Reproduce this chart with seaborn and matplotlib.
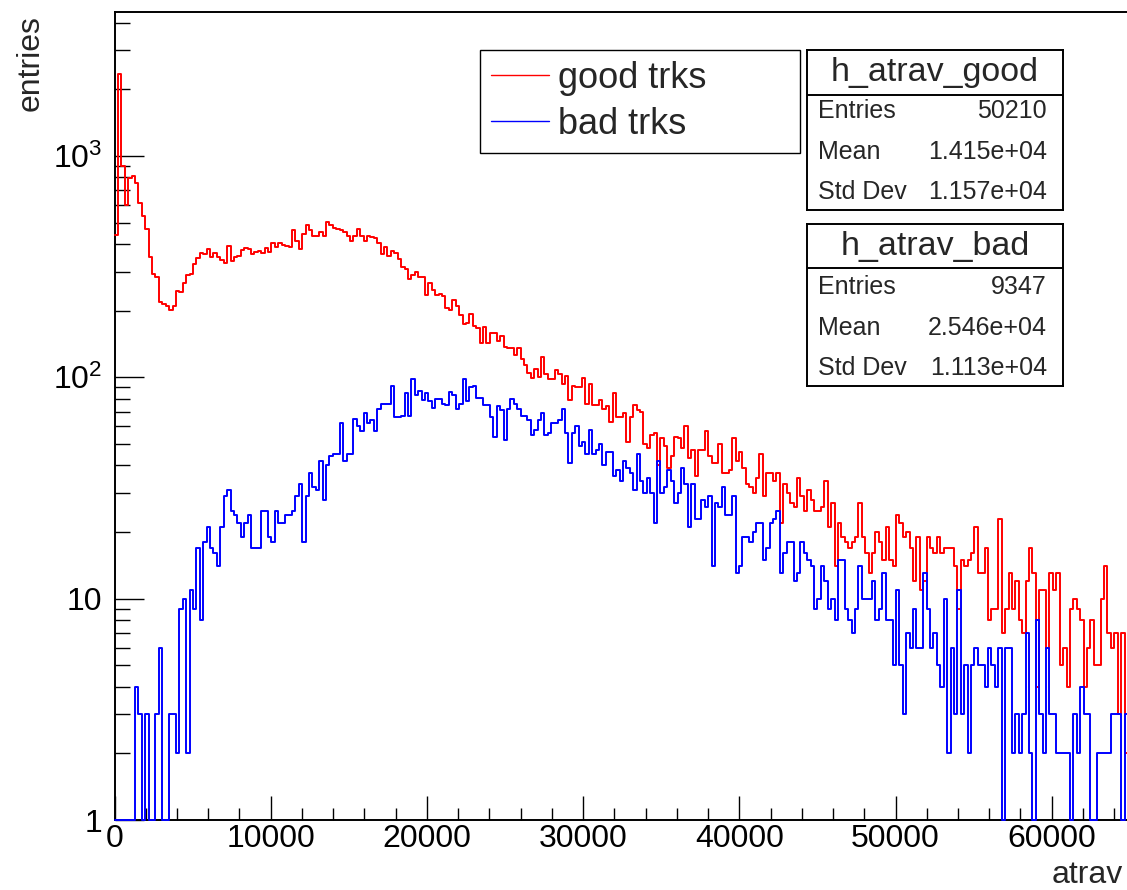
import matplotlib
matplotlib.use("Agg")
import matplotlib.pyplot as plt
import numpy as np
import pandas as pd
import seaborn as sns
from matplotlib.ticker import MultipleLocator, LogLocator, NullFormatter

# histogram binning (300 bins over 0..65536), only the visible bins are listed
n_bins_total = 300
x_max = 65536

good_counts = [
    441, 2350, 903, 600, 795, 815, 755, 615, 533, 469,
    350, 293, 285, 219, 215, 210, 201, 210, 245, 243,
    268, 290, 293, 324, 347, 365, 360, 382, 350, 365,
    350, 340, 330, 394, 335, 350, 354, 378, 383, 382,
    360, 370, 373, 365, 383, 370, 404, 387, 404, 398,
    391, 387, 461, 415, 382, 442, 487, 461, 436, 436,
    455, 436, 501, 487, 475, 468, 461, 455, 436, 412,
    436, 468, 433, 412, 436, 430, 424, 406, 359, 390,
    354, 374, 366, 344, 316, 310, 279, 291, 299, 285,
    283, 236, 267, 249, 236, 239, 233, 205, 202, 223,
    211, 191, 174, 176, 193, 171, 167, 143, 169, 143,
    158, 158, 146, 153, 137, 135, 135, 126, 135, 121,
    114, 105, 99, 109, 100, 124, 103, 98, 98, 108,
    104, 93, 101, 79, 91, 90, 90, 99, 76, 93,
    75, 75, 79, 72, 74, 63, 85, 66, 66, 69,
    51, 66, 75, 71, 70, 50, 48, 55, 56, 40,
    53, 49, 39, 44, 54, 53, 48, 60, 43, 47,
    36, 47, 47, 57, 44, 41, 41, 50, 37, 37,
    38, 53, 42, 46, 39, 33, 32, 30, 35, 45,
    29, 37, 37, 34, 37, 22, 33, 30, 27, 26,
    35, 29, 25, 31, 28, 25, 25, 26, 34, 21,
    27, 14, 22, 19, 18, 17, 18, 19, 27, 19,
    16, 13, 16, 20, 18, 15, 21, 15, 14, 24,
    22, 19, 20, 17, 12, 19, 11, 12, 19, 17,
    16, 19, 16, 17, 17, 17, 14, 9, 15, 14,
    15, 16, 21, 13, 13, 17, 8, 9, 9, 23,
    7, 9, 13, 9, 12, 8, 7, 12, 17, 13,
    4, 11, 11, 6, 13, 11, 13, 5, 6, 4,
    9, 10, 9, 8, 4, 6, 8, 5, 5, 10,
    14, 7, 6, 7, 3, 7, 2, 4,
]

bad_counts = [
    0, 0, 0, 0, 0, 0, 4, 3, 0, 3,
    0, 0, 3, 6, 0, 0, 3, 3, 2, 9,
    10, 2, 11, 9, 17, 8, 18, 21, 17, 16,
    14, 21, 29, 31, 25, 24, 22, 19, 22, 24,
    17, 17, 17, 25, 25, 19, 18, 25, 22, 22,
    24, 24, 25, 29, 33, 18, 29, 37, 32, 31,
    42, 28, 40, 44, 45, 45, 62, 42, 45, 45,
    65, 60, 57, 69, 62, 64, 57, 72, 76, 76,
    76, 91, 66, 66, 67, 85, 67, 98, 83, 87,
    79, 85, 78, 73, 80, 80, 76, 75, 86, 83,
    72, 76, 98, 78, 90, 91, 81, 81, 75, 75,
    66, 54, 74, 71, 52, 72, 80, 76, 72, 67,
    67, 64, 55, 58, 64, 69, 55, 56, 62, 62,
    64, 72, 56, 41, 56, 60, 49, 51, 45, 58,
    45, 47, 50, 40, 46, 46, 36, 38, 34, 42,
    39, 37, 31, 45, 34, 30, 35, 30, 22, 42,
    30, 32, 38, 34, 27, 30, 39, 33, 21, 33,
    23, 23, 28, 26, 29, 14, 27, 26, 32, 24,
    24, 29, 13, 14, 19, 19, 18, 20, 22, 22,
    15, 17, 22, 23, 25, 13, 16, 18, 18, 12,
    13, 18, 16, 15, 14, 9, 10, 14, 12, 9,
    10, 8, 15, 15, 9, 8, 7, 9, 14, 10,
    10, 10, 12, 8, 9, 13, 8, 8, 5, 11,
    5, 3, 7, 6, 9, 6, 6, 13, 9, 6,
    7, 5, 4, 10, 2, 6, 3, 11, 3, 5,
    2, 5, 6, 5, 5, 4, 6, 5, 4, 6,
    0, 6, 6, 2, 3, 2, 3, 7, 2, 0,
    8, 3, 2, 6, 3, 3, 2, 2, 2, 2,
    0, 3, 2, 4, 3, 3, 0, 0, 2, 2,
    2, 2, 3, 3, 3, 0, 3, 3,
]

series_labels = ["good trks", "bad trks"]
series_colors = ["#ff0000", "#0000ff"]

stat_names = ["h_atrav_good", "h_atrav_bad"]
stat_entries = ["50210", "9347"]
stat_means = ["1.415e+04", "2.546e+04"]
stat_stds = ["1.157e+04", "1.113e+04"]

y_tick_values = [1, 10, 100, 1000]
y_tick_labels = ["1", "10", r"$\mathregular{10^{2}}$", r"$\mathregular{10^{3}}$"]

sns.set_style("ticks")
plt.rcParams["font.family"] = ["Liberation Sans", "DejaVu Sans"]
plt.rcParams["mathtext.fontset"] = "custom"
plt.rcParams["mathtext.rm"] = "Liberation Sans"

W, H = 1127, 890
fig = plt.figure(figsize=(W / 100, H / 100), dpi=100)
# frame runs a bit past the right edge of the picture, like the original canvas
ax = fig.add_axes([114.5 / W, (H - 820) / H, 1023.7 / W, 808 / H])

bin_width = x_max / n_bins_total
for counts, label, color in zip([good_counts, bad_counts], series_labels, series_colors):
    counts = np.asarray(counts, dtype=float)
    n = len(counts)
    df = pd.DataFrame({
        "atrav": (np.arange(n) + 0.5) * bin_width,
        # empty bins sit on the frame floor, like ROOT draws them
        "entries": np.maximum(counts, 1),
    })
    sns.histplot(data=df, x="atrav", weights="entries", binwidth=bin_width,
                 binrange=(0, n * bin_width), element="step", fill=False,
                 color=color, linewidth=1.4, ax=ax, clip_on=False, zorder=3)

ax.set_yscale("log")
ax.set_xlim(0, x_max)
ax.set_ylim(1, 10 ** 3.6506)

ax.xaxis.set_major_locator(MultipleLocator(10000))
ax.xaxis.set_minor_locator(MultipleLocator(2000))
ax.set_yticks(y_tick_values, labels=y_tick_labels)
ax.yaxis.set_minor_locator(LogLocator(base=10, subs=np.arange(2, 10)))
ax.yaxis.set_minor_formatter(NullFormatter())

ax.tick_params(axis="both", which="both", direction="in", top=False, right=False,
               width=1.0, colors="black", labelsize=23)
ax.tick_params(axis="y", which="major", length=21, pad=9)
ax.tick_params(axis="y", which="minor", length=10.8)
ax.tick_params(axis="x", which="major", length=17.3, pad=3)
ax.tick_params(axis="x", which="minor", length=8.6)

for side in ["left", "bottom", "top"]:
    ax.spines[side].set_linewidth(1.4)
    ax.spines[side].set_color("black")
ax.spines["right"].set_visible(False)

ax.set_xlabel("atrav", fontsize=23, loc="right")
ax.xaxis.set_label_coords((1123 - 114.5) / 1023.7, -0.05)
ax.set_ylabel("entries", fontsize=23, loc="top")
ax.yaxis.set_label_coords((46 - 114.5) / 1023.7, 1.0 - 3 / 808)

handles = ax.get_lines()[:2]
leg = ax.legend(handles, series_labels, loc="upper left",
                bbox_to_anchor=(480 / W, (H - 152) / H, 320 / W, 102 / H),
                bbox_transform=fig.transFigure, mode="expand", borderaxespad=0,
                fontsize=26, frameon=True, fancybox=False, edgecolor="black",
                framealpha=1, handlelength=1.6, handletextpad=0.25,
                borderpad=0.3, labelspacing=0.31)
leg.get_frame().set_linewidth(1.0)
for line in leg.get_lines():
    line.set_linewidth(1.0)

# stat boxes: (top, bottom, separator, title y, row ys) in pixels from the top
box_geometry = [
    (50, 210, 95, 72.5, [111, 152, 192]),
    (224, 386, 268, 246, [287, 328, 368]),
]
box_left, box_right = 807, 1063
for (top, bottom, sep, title_y, row_ys), name, ent, mean, std in zip(
        box_geometry, stat_names, stat_entries, stat_means, stat_stds):
    bx = fig.add_axes([box_left / W, (H - bottom) / H, (box_right - box_left) / W, (bottom - top) / H])
    bx.set_xlim(0, 1)
    bx.set_ylim(0, 1)
    bx.set_xticks([])
    bx.set_yticks([])
    bx.set_facecolor("white")
    for s in bx.spines.values():
        s.set_linewidth(1.4)
        s.set_color("black")
    h = bottom - top
    bx.axhline((bottom - sep) / h, color="black", linewidth=1.4)
    bx.text(0.5, (bottom - title_y) / h, name, ha="center", va="center", fontsize=24.5)
    left_x = (818 - box_left) / (box_right - box_left)
    right_x = (1047 - box_left) / (box_right - box_left)
    for ry, key, val in zip(row_ys, ["Entries", "Mean", "Std Dev"], [ent, mean, std]):
        bx.text(left_x, (bottom - ry) / h, key, ha="left", va="center", fontsize=18)
        bx.text(right_x, (bottom - ry) / h, val, ha="right", va="center", fontsize=18)

fig.savefig("out.png", dpi=100)
